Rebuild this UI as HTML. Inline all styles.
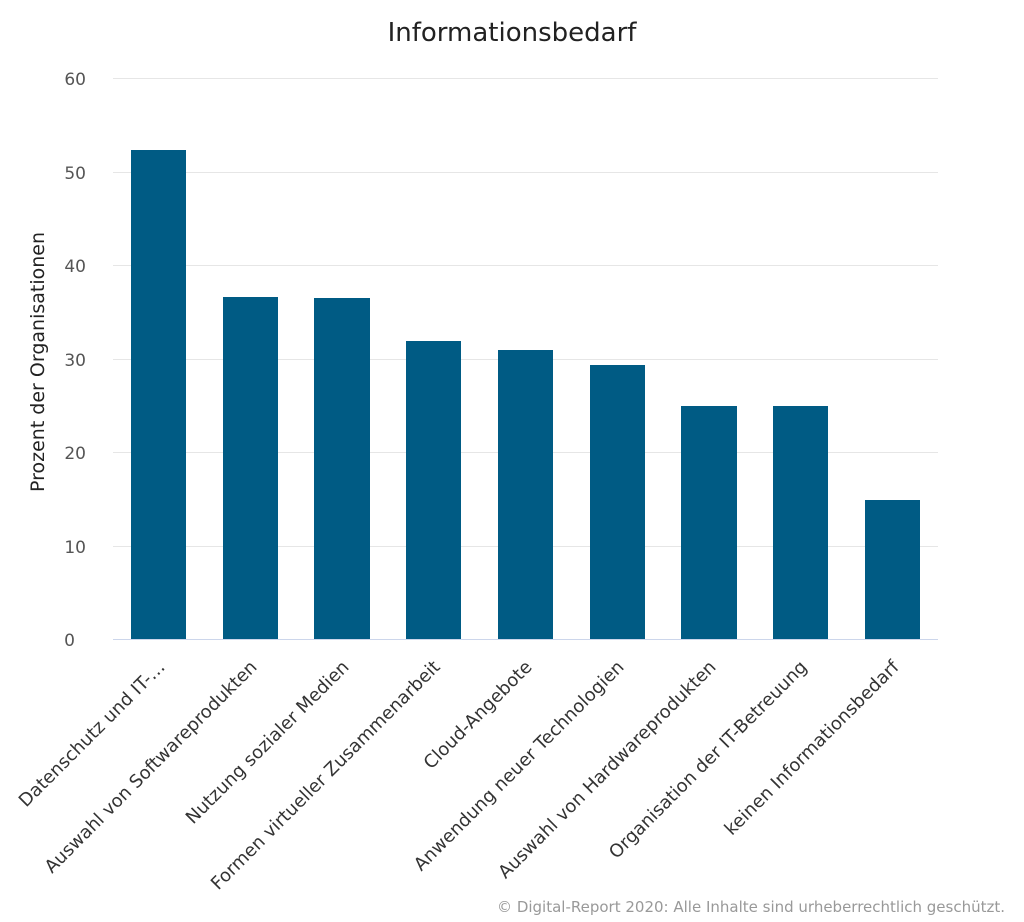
<!DOCTYPE html>
<html><head><meta charset="utf-8"><style>body{margin:0;background:#fff}svg{display:block;font-family:"DejaVu Sans","Liberation Sans",sans-serif}</style></head>
<body>
<svg width="1024" height="922" viewBox="0 0 1024 922">
<text x="512" y="41" text-anchor="middle" font-size="26" fill="#222">Informationsbedarf</text>
<g stroke="#e6e6e6" stroke-width="1">
<line x1="113" x2="938" y1="78.5" y2="78.5"/><line x1="113" x2="938" y1="172.5" y2="172.5"/><line x1="113" x2="938" y1="265.5" y2="265.5"/><line x1="113" x2="938" y1="359.5" y2="359.5"/><line x1="113" x2="938" y1="452.5" y2="452.5"/><line x1="113" x2="938" y1="546.5" y2="546.5"/>
</g>
<line x1="113" x2="938" y1="639.5" y2="639.5" stroke="#ccd6eb"/>
<g font-size="17" fill="#555" text-anchor="end">
<text x="86" y="85">60</text><text x="86" y="179">50</text><text x="86" y="272">40</text><text x="86" y="366">30</text><text x="86" y="459">20</text><text x="86" y="553">10</text><text x="75" y="646">0</text>
</g>
<text transform="translate(44,362) rotate(-90)" text-anchor="middle" font-size="19" fill="#222">Prozent der Organisationen</text>
<g fill="#005b84">
<rect x="131" y="150" width="55" height="489"/>
<rect x="223" y="297" width="55" height="342"/>
<rect x="314" y="298" width="56" height="341"/>
<rect x="406" y="341" width="55" height="298"/>
<rect x="498" y="350" width="55" height="289"/>
<rect x="590" y="365" width="55" height="274"/>
<rect x="681" y="406" width="56" height="233"/>
<rect x="773" y="406" width="55" height="233"/>
<rect x="865" y="500" width="55" height="139"/>
</g>
<g font-size="18" fill="#333" text-anchor="end">
<text transform="translate(166,668) rotate(-45)">Datenschutz und IT-…</text>
<text transform="translate(258,668) rotate(-45)">Auswahl von Softwareprodukten</text>
<text transform="translate(350,668) rotate(-45)">Nutzung sozialer Medien</text>
<text transform="translate(441,668) rotate(-45)">Formen virtueller Zusammenarbeit</text>
<text transform="translate(533,668) rotate(-45)">Cloud-Angebote</text>
<text transform="translate(625,668) rotate(-45)">Anwendung neuer Technologien</text>
<text transform="translate(717,668) rotate(-45)">Auswahl von Hardwareprodukten</text>
<text transform="translate(808,668) rotate(-45)">Organisation der IT-Betreuung</text>
<text transform="translate(900,668) rotate(-45)">keinen Informationsbedarf</text>
</g>
<text x="1005" y="912" text-anchor="end" font-size="15" fill="#999">© Digital-Report 2020: Alle Inhalte sind urheberrechtlich geschützt.</text>
</svg>
</body></html>
